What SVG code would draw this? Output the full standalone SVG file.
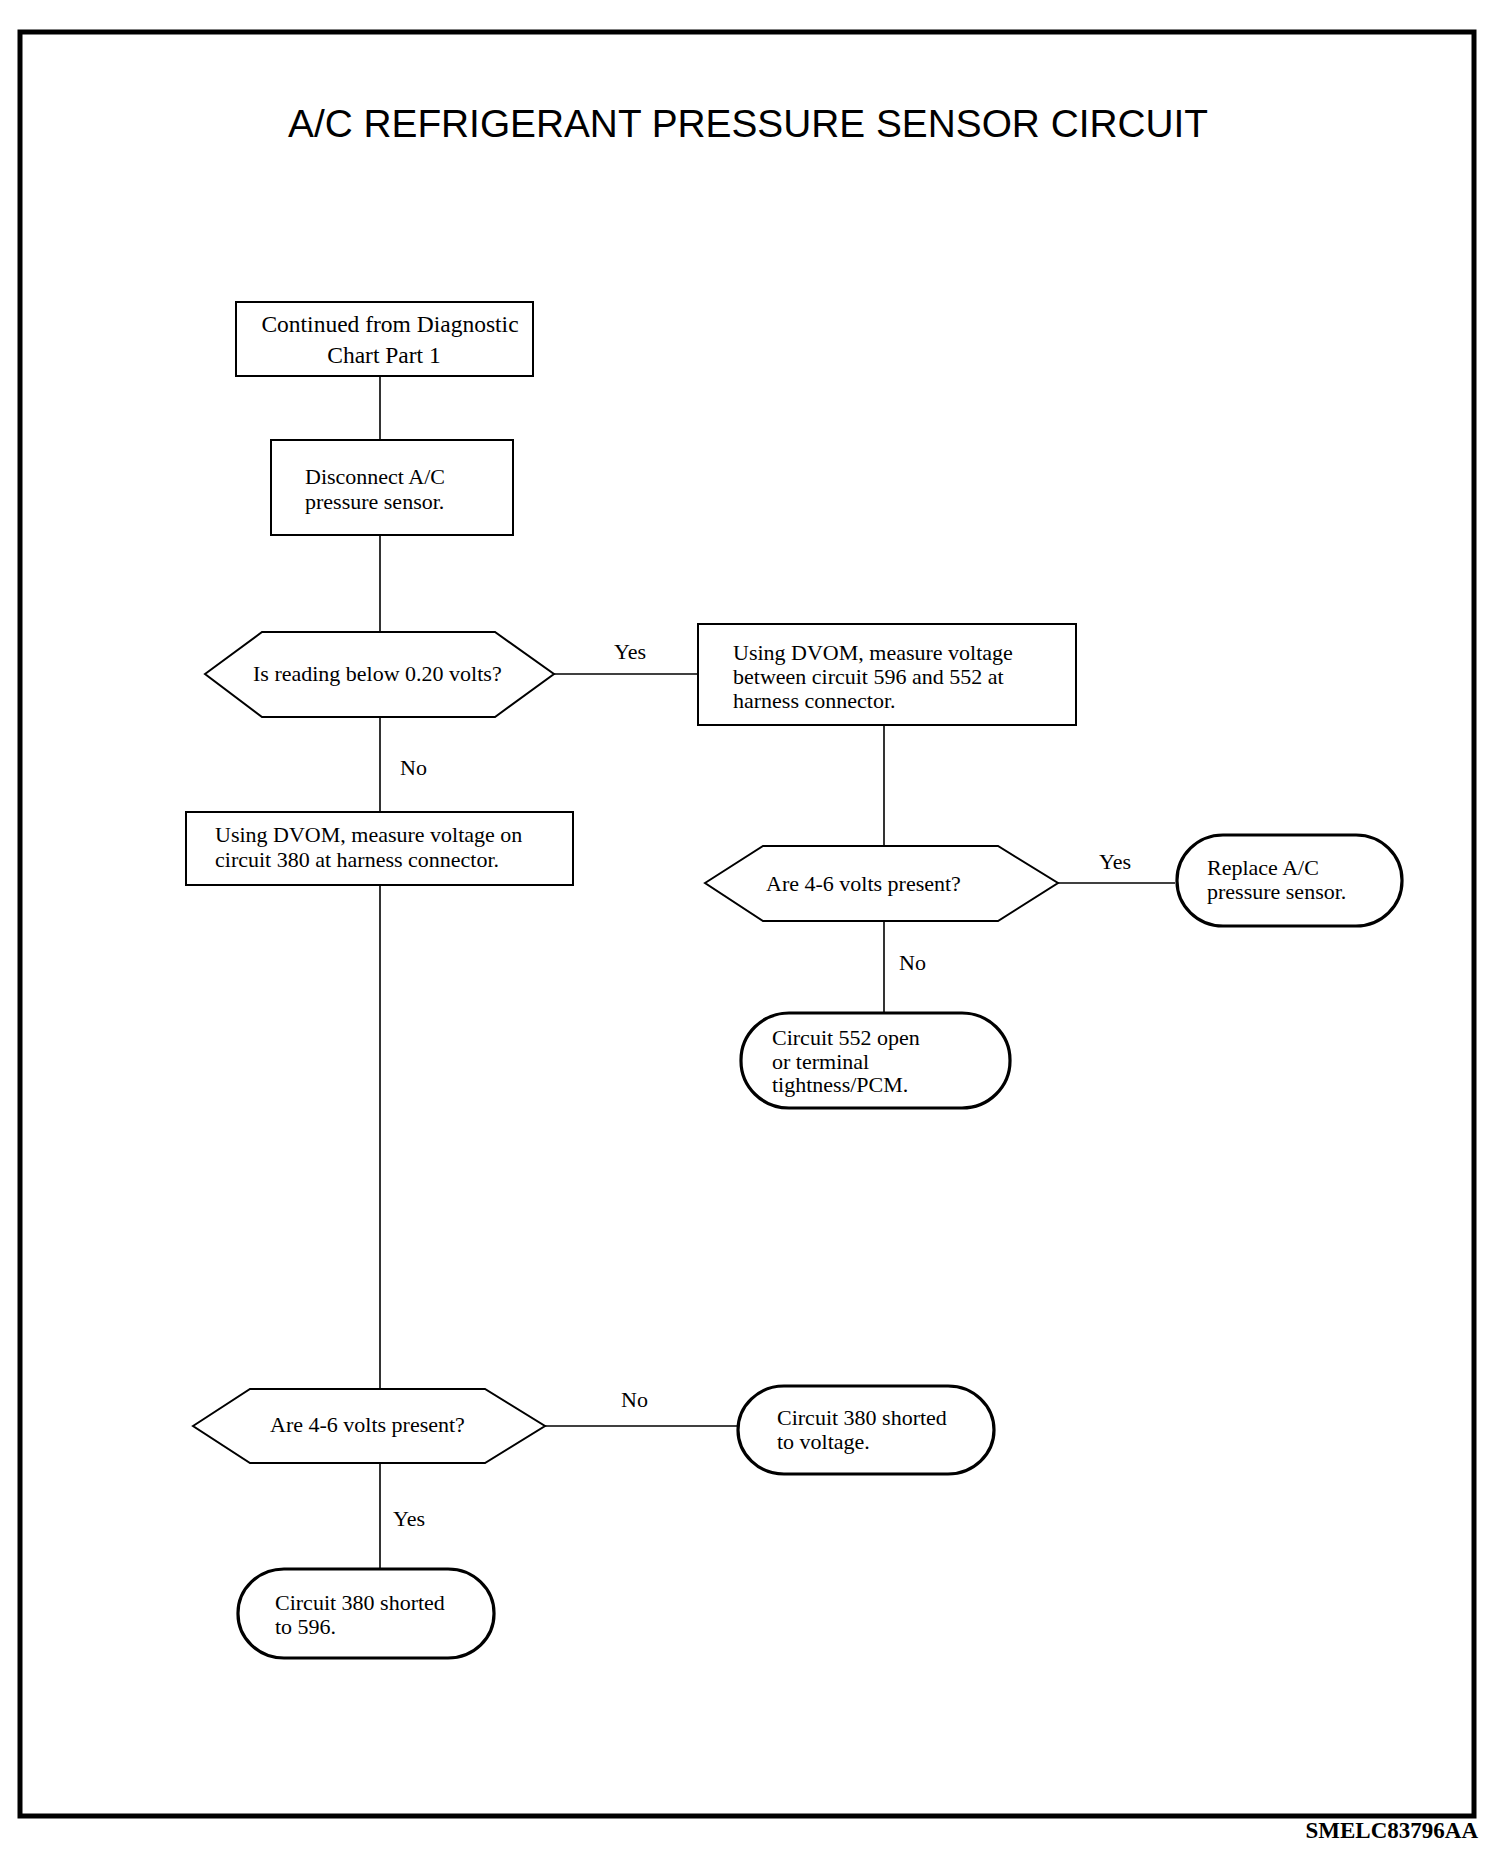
<svg xmlns="http://www.w3.org/2000/svg" width="1504" height="1858" viewBox="0 0 1504 1858">
<style>
text{font-family:"Liberation Serif","Times New Roman",serif;font-size:22px;fill:#000}
.title{font-family:"Liberation Sans",Arial,sans-serif;font-size:39px}
.box{fill:#fff;stroke:#000;stroke-width:2}
.term{fill:#fff;stroke:#000;stroke-width:3.2}
.conn line{stroke:#000;stroke-width:1.6}
.lbl{font-size:22px}
</style>
<rect x="0" y="0" width="1504" height="1858" fill="#fff"/>
<rect id="frame" x="20" y="32" width="1454" height="1784" fill="none" stroke="#000" stroke-width="5"/>
<text class="title" x="288" y="137" textLength="920" lengthAdjust="spacingAndGlyphs">A/C REFRIGERANT PRESSURE SENSOR CIRCUIT</text>
<text x="1478" y="1838" text-anchor="end" font-weight="bold" style="font-size:23px">SMELC83796AA</text>

<g id="connectors" class="conn">
<line x1="380" y1="376" x2="380" y2="439"/>
<line x1="380" y1="535" x2="380" y2="632"/>
<line x1="554" y1="674" x2="698" y2="674"/>
<line x1="380" y1="717" x2="380" y2="812"/>
<line x1="380" y1="885" x2="380" y2="1389"/>
<line x1="884" y1="725" x2="884" y2="846"/>
<line x1="1058" y1="883" x2="1175" y2="883"/>
<line x1="884" y1="921" x2="884" y2="1012"/>
<line x1="545" y1="1426" x2="737" y2="1426"/>
<line x1="380" y1="1463" x2="380" y2="1568"/>
<text class="lbl" x="614" y="659">Yes</text>
<text class="lbl" x="400" y="775">No</text>
<text class="lbl" x="1099" y="869">Yes</text>
<text class="lbl" x="899" y="970">No</text>
<text class="lbl" x="621" y="1407">No</text>
<text class="lbl" x="393" y="1526">Yes</text>
</g>

<g id="n_continued">
<rect class="box" x="236" y="302" width="297" height="74"/>
<text x="390" y="332" text-anchor="middle" style="font-size:23.5px">Continued from Diagnostic</text>
<text x="384" y="363" text-anchor="middle" style="font-size:23.5px">Chart Part 1</text>
</g>

<g id="n_disconnect">
<rect class="box" x="271" y="440" width="242" height="95"/>
<text x="305" y="484">Disconnect A/C</text>
<text x="305" y="509">pressure sensor.</text>
</g>

<g id="n_reading">
<polygon class="box" points="205,674 262,632 495,632 554,674 495,717 262,717"/>
<text x="253" y="681">Is reading below 0.20 volts?</text>
</g>

<g id="n_measure596">
<rect class="box" x="698" y="624" width="378" height="101"/>
<text x="733" y="660">Using DVOM, measure voltage</text>
<text x="733" y="684">between circuit 596 and 552 at</text>
<text x="733" y="708">harness connector.</text>
</g>

<g id="n_measure380">
<rect class="box" x="186" y="812" width="387" height="73"/>
<text x="215" y="842">Using DVOM, measure voltage on</text>
<text x="215" y="867">circuit 380 at harness connector.</text>
</g>

<g id="n_volts2">
<polygon class="box" points="705,883 763,846 998,846 1058,883 998,921 763,921"/>
<text x="766" y="891">Are 4-6 volts present?</text>
</g>

<g id="n_replace">
<rect class="term" x="1177" y="835" width="225" height="91" rx="46" ry="45"/>
<text x="1207" y="875">Replace A/C</text>
<text x="1207" y="899">pressure sensor.</text>
</g>

<g id="n_552open">
<rect class="term" x="741" y="1013" width="269" height="95" rx="48" ry="47"/>
<text x="772" y="1045">Circuit 552 open</text>
<text x="772" y="1069">or terminal</text>
<text x="772" y="1092">tightness/PCM.</text>
</g>

<g id="n_volts3">
<polygon class="box" points="193,1426 250,1389 485,1389 545,1426 485,1463 250,1463"/>
<text x="270" y="1432">Are 4-6 volts present?</text>
</g>

<g id="n_shortvolt">
<rect class="term" x="738" y="1386" width="256" height="88" rx="46" ry="44"/>
<text x="777" y="1425">Circuit 380 shorted</text>
<text x="777" y="1449">to voltage.</text>
</g>

<g id="n_short596">
<rect class="term" x="238" y="1569" width="256" height="89" rx="46" ry="44"/>
<text x="275" y="1610">Circuit 380 shorted</text>
<text x="275" y="1634">to 596.</text>
</g>
</svg>
